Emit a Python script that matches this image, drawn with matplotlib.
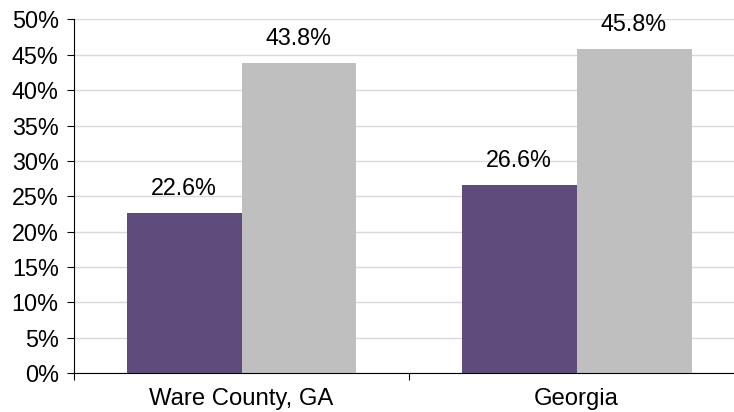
import numpy as np
import matplotlib.pyplot as plt
from matplotlib.ticker import FuncFormatter, FixedLocator

plt.rcParams['font.family'] = ['Liberation Sans', 'DejaVu Sans']

categories = ['Ware County, GA', 'Georgia']
series_a = [22.6, 26.6]
series_b = [43.8, 45.8]
yticks = np.arange(0, 55, 5)

purple = '#604C7C'
gray = '#BFBFBF'

fig = plt.figure(figsize=(7.34, 4.12), dpi=100)
ax = fig.add_axes([0.1008, 0.0947, 0.913, 0.858])

x = np.arange(len(categories))
w = 0.343
bars_a = ax.bar(x - w / 2, series_a, w, color=purple, zorder=2)
bars_b = ax.bar(x + w / 2, series_b, w, color=gray, zorder=2)

for bars, vals in ((bars_a, series_a), (bars_b, series_b)):
    for b, v in zip(bars, vals):
        ax.text(b.get_x() + b.get_width() / 2, v + 2.6, f'{v:.1f}%',
                ha='center', va='baseline', fontsize=16.8)

ax.set_xlim(-0.5, 1.5)
ax.set_ylim(0, 50)
ax.set_yticks(yticks)
ax.yaxis.set_major_formatter(FuncFormatter(lambda v, p: f'{v:.0f}%'))
ax.yaxis.grid(True, color='#D9D9D9', linewidth=1, zorder=0)

ax.set_xticks(x)
ax.set_xticklabels(categories)
ax.xaxis.set_minor_locator(FixedLocator([-0.5, 0.5, 1.5]))
ax.tick_params(axis='x', which='major', length=0, pad=11, labelsize=17.2)
ax.tick_params(axis='x', which='minor', length=5, width=0.8)
ax.tick_params(axis='y', length=5, width=0.8, labelsize=16.8, pad=6)

for s in ('top', 'right'):
    ax.spines[s].set_visible(False)
for s in ('left', 'bottom'):
    ax.spines[s].set_linewidth(0.8)

fig.savefig('out.png', dpi=100)
